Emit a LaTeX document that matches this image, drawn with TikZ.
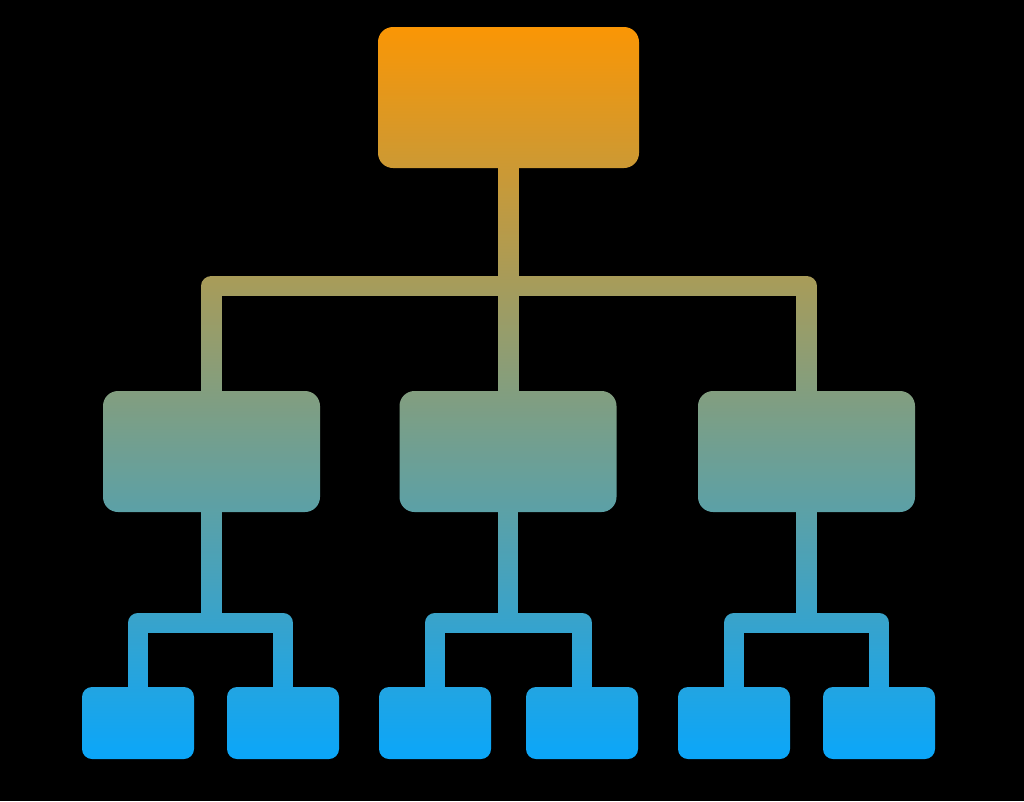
\documentclass[tikz,border=0pt]{standalone}
\usetikzlibrary{calc}
\definecolor{orgtop}{RGB}{250,150,5}
\definecolor{orgbot}{RGB}{10,166,250}
\begin{document}
\begin{tikzpicture}[x=1pt,y=-1pt,
  bigbox/.style={rectangle,fill=white,inner sep=0pt,rounded corners=15pt,minimum width=261pt,minimum height=141pt},
  midbox/.style={rectangle,fill=white,inner sep=0pt,rounded corners=15pt,minimum width=217pt,minimum height=121pt},
  leafbox/.style={rectangle,fill=white,inner sep=0pt,rounded corners=10pt,minimum width=112pt,minimum height=72pt},
  conn/.style={draw=white,line width=20.5pt,line join=round}]
\fill[black] (0,0) rectangle (1024,801);
\useasboundingbox (0,0) rectangle (1024,801);
% nodes
\node[bigbox] (top) at (508.5,97.5) {};
\node[midbox] (m1) at (211.5,451.5) {};
\node[midbox] (m2) at (508,451.5) {};
\node[midbox] (m3) at (806.5,451.5) {};
\node[leafbox] (b1) at (138,723) {};
\node[leafbox] (b2) at (283,723) {};
\node[leafbox] (b3) at (435,723) {};
\node[leafbox] (b4) at (582,723) {};
\node[leafbox] (b5) at (734,723) {};
\node[leafbox] (b6) at (879,723) {};
% junctions
\coordinate (j0) at (508.5,286);
\coordinate (j1) at (211.5,623);
\coordinate (j2) at (508,623);
\coordinate (j3) at (806.5,623);
% connectors
\draw[conn] (top.south) -- (top.south |- m2.north);
\draw[conn] (m1.north) |- (j0) -| (m3.north);
\draw[conn] (m1.south) -- (j1);
\draw[conn] (b1.north) |- (j1) -| (b2.north);
\draw[conn] (m2.south) -- (j2);
\draw[conn] (b3.north) |- (j2) -| (b4.north);
\draw[conn] (m3.south) -- (j3);
\draw[conn] (b5.north) |- (j3) -| (b6.north);
% gradient colouring
\shade[blend mode=multiply,top color=orgtop,bottom color=orgbot] (70,27) rectangle (950,760);
\end{tikzpicture}
\end{document}
